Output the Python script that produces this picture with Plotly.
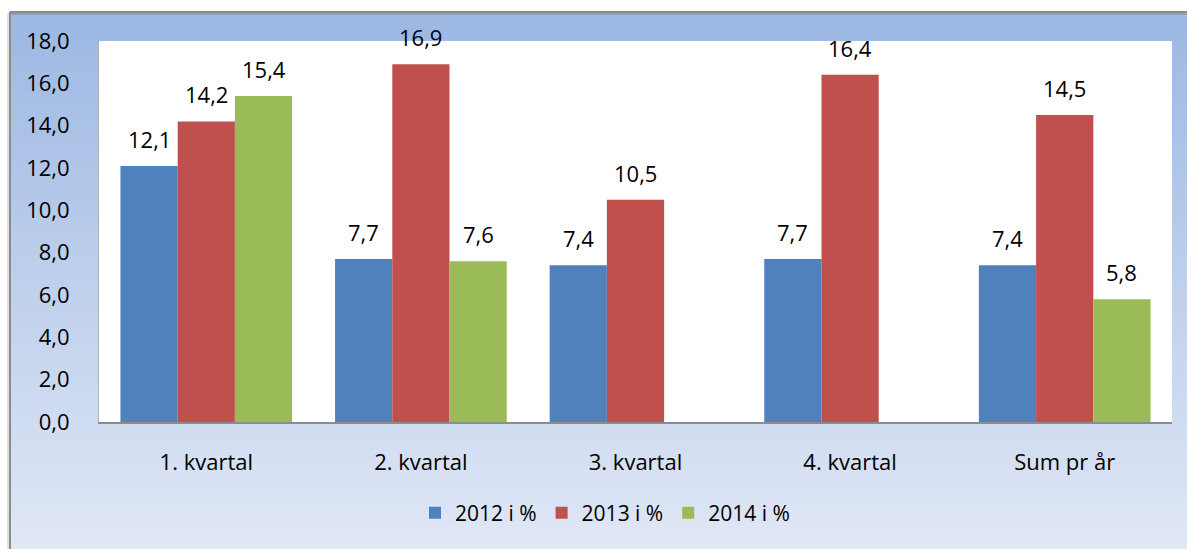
import plotly.graph_objects as go

categories = ["1. kvartal", "2. kvartal", "3. kvartal", "4. kvartal", "Sum pr år"]
s2012 = [12.1, 7.7, 7.4, 7.7, 7.4]
s2013 = [14.2, 16.9, 10.5, 16.4, 14.5]
s2014 = [15.4, 7.6, None, None, 5.8]
series_names = ["2012 i %", "2013 i %", "2014 i %"]
colors = ["#4f81bd", "#c0504d", "#9bbb59"]
yticks = [0, 2, 4, 6, 8, 10, 12, 14, 16, 18]

FONT = "Open Sans"
W, H = 1187, 549
ML, MR, MT, MB = 99, 15, 41, 127
PW, PH = W - ML - MR, H - MT - MB
BARGAP = 0.2

def px_x(px):
    return (px - ML) / PW

def px_y(py):
    return (H - MB - py) / PH

fig = go.Figure()
all_series = [s2012, s2013, s2014]
for name, vals, c in zip(series_names, all_series, colors):
    fig.add_trace(go.Bar(x=categories, y=vals, name=name, marker=dict(color=c, line=dict(width=0))))

# data labels from the data
n = len(all_series)
w = (1 - BARGAP) / n
annotations = []
for j, vals in enumerate(all_series):
    for i, v in enumerate(vals):
        if v is None:
            continue
        annotations.append(dict(
            x=i + (j - (n - 1) / 2) * w, y=v, xref="x", yref="y",
            text=f"{v:.1f}".replace(".", ","), showarrow=False,
            yanchor="bottom", yshift=10,
            font=dict(family=FONT, size=22, color="#000000")))

# gradient background
shapes = []
top_c = (156, 184, 227)
bot_c = (224, 231, 245)
y_top, y_bot = 12, H
steps = 60
for k in range(steps):
    t = k / (steps - 1)
    col = tuple(int(round(a + (b - a) * t)) for a, b in zip(top_c, bot_c))
    p0 = y_top + (y_bot - y_top) * k / steps
    p1 = y_top + (y_bot - y_top) * (k + 1) / steps + 1
    shapes.append(dict(type="rect", xref="paper", yref="paper",
                       x0=px_x(10), x1=px_x(W + 5), y0=px_y(p1), y1=px_y(p0),
                       fillcolor="rgb(%d,%d,%d)" % col, line=dict(width=0), layer="below"))
# white plot area
shapes.append(dict(type="rect", xref="paper", yref="paper", x0=0, x1=1, y0=0, y1=1,
                   fillcolor="white", line=dict(width=0), layer="below"))
# frame border lines (top and left) with soft shadow
shapes.append(dict(type="line", xref="paper", yref="paper", x0=px_x(9), x1=px_x(W + 5),
                   y0=px_y(13), y1=px_y(13), line=dict(color="rgba(0,0,0,0.12)", width=4), layer="below"))
shapes.append(dict(type="line", xref="paper", yref="paper", x0=px_x(9), x1=px_x(9),
                   y0=px_y(13), y1=px_y(H + 5), line=dict(color="rgba(0,0,0,0.12)", width=4), layer="below"))
shapes.append(dict(type="line", xref="paper", yref="paper", x0=px_x(10), x1=px_x(W + 5),
                   y0=px_y(12), y1=px_y(12), line=dict(color="#8c8c8c", width=2), layer="below"))
shapes.append(dict(type="line", xref="paper", yref="paper", x0=px_x(10), x1=px_x(10),
                   y0=px_y(12), y1=px_y(H + 5), line=dict(color="#8c8c8c", width=2), layer="below"))

fig.update_layout(
    width=W, height=H,
    margin=dict(l=ML, r=MR, t=MT, b=MB, pad=0),
    paper_bgcolor="white", plot_bgcolor="rgba(0,0,0,0)",
    barmode="group", bargap=BARGAP, bargroupgap=0,
    separators=", ",
    shapes=shapes, annotations=annotations,
    showlegend=True,
    legend=dict(orientation="h", x=px_x(605), xanchor="center", y=px_y(513), yanchor="middle",
                font=dict(family=FONT, size=21, color="#000000"), bgcolor="rgba(0,0,0,0)",
                traceorder="normal", itemwidth=30),
    font=dict(family=FONT, color="#000000"),
)
fig.update_xaxes(showgrid=False, showline=True, linecolor="#8c8c8c", linewidth=2,
                 ticks="", tickfont=dict(family=FONT, size=22, color="#000000"),
                 ticklabelstandoff=20)
fig.update_yaxes(range=[0, 18], tickvals=yticks, tickformat=".1f", showgrid=False,
                 showline=True, linecolor="#b0b0b0", linewidth=1, ticks="", zeroline=False,
                 tickfont=dict(family=FONT, size=22, color="#000000"), ticklabelstandoff=24)

fig.write_html("out.html")
